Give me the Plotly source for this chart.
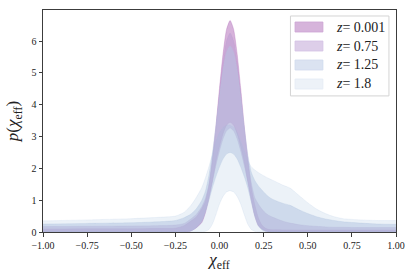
import plotly.graph_objects as go

# x grid (chi_eff)
chi = [-1.0, -0.75, -0.5, -0.35, -0.25, -0.2, -0.16, -0.13, -0.1, -0.08, -0.06, -0.04, -0.02, 0.0,
       0.02, 0.04, 0.06, 0.08, 0.1, 0.12, 0.14, 0.16, 0.18, 0.2, 0.22, 0.24, 0.26, 0.28, 0.3,
       0.33, 0.36, 0.4, 0.45, 0.5, 0.55, 0.6, 0.65, 0.7, 0.8, 0.9, 1.0]

labels = ["<i>z</i>= 0.001", "<i>z</i>= 0.75", "<i>z</i>= 1.25", "<i>z</i>= 1.8"]

upper_z0001 = [0.09, 0.10, 0.10, 0.11, 0.12, 0.20, 0.35, 0.48, 0.74, 0.97, 1.45, 2.26, 3.33, 4.51,
               5.59, 6.37, 6.65, 6.37, 5.59, 4.51, 3.33, 2.3, 1.4, 0.85, 0.45, 0.22, 0.12, 0.08, 0.07,
               0.07, 0.065, 0.065, 0.06, 0.06, 0.06, 0.06, 0.06, 0.06, 0.06, 0.06, 0.06]
lower_z0001 = [0, 0, 0, 0, 0, 0, 0.04, 0.14, 0.3, 0.6, 1.05, 1.6, 2.22, 2.69,
               3.09, 3.36, 3.45, 3.36, 3.09, 2.69, 2.22, 1.6, 1.0, 0.5, 0.2, 0.1, 0.04, 0.01, 0,
               0, 0, 0, 0, 0, 0, 0, 0, 0, 0, 0, 0]

upper_z075 = [0.17, 0.18, 0.19, 0.20, 0.22, 0.27, 0.42, 0.56, 0.8, 1.05, 1.5, 2.3, 3.25, 4.33,
              5.31, 6.0, 6.25, 6.0, 5.31, 4.33, 3.25, 2.3, 1.55, 1.08, 0.88, 0.72, 0.6, 0.52, 0.47,
              0.4, 0.34, 0.28, 0.23, 0.2, 0.18, 0.16, 0.15, 0.15, 0.14, 0.14, 0.14]
lower_z075 = [0, 0, 0, 0, 0, 0, 0.04, 0.14, 0.35, 0.65, 1.1, 1.6, 2.1, 2.55,
              2.93, 3.18, 3.27, 3.18, 2.93, 2.55, 2.1, 1.6, 1.05, 0.55, 0.22, 0.09, 0.03, 0.01, 0,
              0, 0, 0, 0, 0, 0, 0, 0, 0, 0, 0, 0]

upper_z125 = [0.25, 0.27, 0.29, 0.32, 0.36, 0.45, 0.57, 0.74, 1.0, 1.28, 1.78, 2.5, 3.36, 4.25,
              5.07, 5.65, 5.85, 5.65, 5.07, 4.25, 3.31, 2.45, 1.88, 1.62, 1.45, 1.32, 1.2, 1.1, 1.03,
              0.96, 0.9, 0.84, 0.7, 0.58, 0.48, 0.41, 0.36, 0.32, 0.28, 0.25, 0.24]
lower_z125 = [0, 0, 0, 0, 0, 0, 0.04, 0.15, 0.35, 0.65, 1.0, 1.4, 1.75, 2.05,
              2.3, 2.45, 2.5, 2.45, 2.3, 2.05, 1.75, 1.4, 0.95, 0.5, 0.2, 0.07, 0.02, 0, 0,
              0, 0, 0, 0, 0, 0, 0, 0, 0, 0, 0, 0]

upper_z18 = [0.35, 0.38, 0.42, 0.46, 0.5, 0.62, 0.85, 1.1, 1.4, 1.7, 2.05, 2.45, 2.85, 3.12,
             3.28, 3.35, 3.35, 3.3, 3.12, 2.85, 2.55, 2.25, 2.05, 1.95, 1.87, 1.8, 1.74, 1.68, 1.63,
             1.55, 1.47, 1.38, 1.15, 0.92, 0.72, 0.58, 0.48, 0.42, 0.38, 0.36, 0.36]
lower_z18 = [0, 0, 0, 0, 0, 0, 0, 0, 0, 0.02, 0.08, 0.25, 0.55, 0.88,
             1.12, 1.26, 1.3, 1.26, 1.12, 0.88, 0.55, 0.25, 0.08, 0.02, 0, 0, 0, 0, 0,
             0, 0, 0, 0, 0, 0, 0, 0, 0, 0, 0, 0]

bands = [
    (labels[0], lower_z0001, upper_z0001, "rgba(173,101,181,0.5)", "rgba(173,101,181,0.55)", "rgb(214,180,219)", "rgb(205,165,212)"),
    (labels[1], lower_z075, upper_z075, "rgba(185,155,209,0.5)", "rgba(185,155,209,0.5)", "rgb(221,206,233)", "rgb(212,194,228)"),
    (labels[2], lower_z125, upper_z125, "rgba(181,197,225,0.5)", "rgba(181,197,225,0.5)", "rgb(219,227,241)", "rgb(208,219,237)"),
    (labels[3], lower_z18, upper_z18, "rgba(160,190,220,0.2)", "rgba(160,190,220,0.25)", "rgb(237,242,248)", "rgb(228,236,245)"),
]

fig = go.Figure()
for name, lo, hi, fc, lc, patch, edge in bands:
    assert len(lo) == len(chi) and len(hi) == len(chi)
    fig.add_trace(go.Scatter(x=chi, y=lo, mode="lines", line=dict(color=lc, width=0.6, shape="spline", smoothing=0.6),
                             showlegend=False, hoverinfo="skip"))
    fig.add_trace(go.Scatter(x=chi, y=hi, mode="lines", fill="tonexty", fillcolor=fc,
                             line=dict(color=lc, width=0.6, shape="spline", smoothing=0.6),
                             showlegend=False, hoverinfo="skip", name=name))

# hand-placed legend (paper coordinates of the plotting area)
leg_x0, leg_x1, leg_y0, leg_y1 = 0.701, 0.980, 0.613, 0.973
fig.add_shape(type="rect", xref="paper", yref="paper", x0=leg_x0, x1=leg_x1, y0=leg_y0, y1=leg_y1,
              line=dict(color="#d4d4d4", width=1), fillcolor="white", layer="above")
row_y = [0.9234, 0.8378, 0.7523, 0.6667]
for (name, lo, hi, fc, lc, patch, edge), yc in zip(bands, row_y):
    fig.add_shape(type="rect", xref="paper", yref="paper", x0=0.714, x1=0.793,
                  y0=yc - 0.0225, y1=yc + 0.0225, fillcolor=patch,
                  line=dict(color=edge, width=0.8), layer="above")
    fig.add_annotation(xref="paper", yref="paper", x=0.823, y=yc, text=name, showarrow=False,
                       xanchor="left", yanchor="middle",
                       font=dict(family="Liberation Serif", size=14, color="#222"))

axis_common = dict(showline=True, linecolor="#3c3c3c", linewidth=1, mirror=True,
                   ticks="outside", ticklen=3.5, tickwidth=1, tickcolor="#3c3c3c",
                   showgrid=False, zeroline=False,
                   tickfont=dict(family="Liberation Serif", size=10, color="#222"))

fig.update_layout(
    width=415, height=277,
    margin=dict(l=43, r=19, t=10, b=45),
    paper_bgcolor="white", plot_bgcolor="white",
    showlegend=False,
    xaxis=dict(range=[-1, 1], tickvals=[-1, -0.75, -0.5, -0.25, 0, 0.25, 0.5, 0.75, 1],
               tickformat=".2f",
               title=dict(text="<i>χ</i><sub>eff</sub>", standoff=2,
                          font=dict(family="Liberation Serif", size=17, color="#222")),
               **axis_common),
    yaxis=dict(range=[0, 6.98], tickvals=[0, 1, 2, 3, 4, 5, 6],
               title=dict(text="<i>p</i>(<i>χ</i><sub>eff</sub>)", standoff=8,
                          font=dict(family="Liberation Serif", size=17, color="#222")),
               **axis_common),
    hovermode=False,
)

fig.write_html("out.html", config={"displayModeBar": False, "staticPlot": True})

with open("out.html", "r", encoding="utf-8") as f:
    html = f.read()
html = html.replace("<head>", "<head><style>html,body{margin:0;padding:0;overflow:hidden;}</style>", 1)
with open("out.html", "w", encoding="utf-8") as f:
    f.write(html)
